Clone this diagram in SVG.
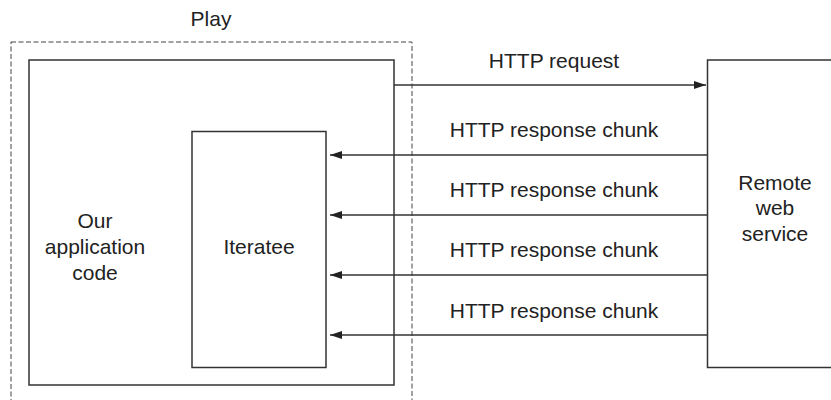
<svg xmlns="http://www.w3.org/2000/svg" width="831" height="400" viewBox="0 0 831 400">
<style>
.box{fill:#fff;stroke:#333;stroke-width:1.5}
.dash{fill:none;stroke:#444;stroke-width:1;stroke-dasharray:5 2.5}
.conn{stroke:#333;stroke-width:1.3;fill:none}
text{font-family:"Liberation Sans",Arial,sans-serif;font-size:21px;fill:#222;text-anchor:middle}
</style>
<defs>
<marker id="ah" viewBox="0 0 12 8" refX="12" refY="4" markerWidth="12" markerHeight="8" markerUnits="userSpaceOnUse" orient="auto">
<path d="M0,0 L12,4 L0,8 Z" fill="#222"/>
</marker>
</defs>
<g id="play">
<rect class="dash" x="11" y="42" width="401" height="380"/>
<text x="211" y="26">Play</text>
</g>
<g id="app">
<rect class="box" x="29" y="60" width="365" height="325"/>
<text x="95" y="228">Our</text>
<text x="95" y="254">application</text>
<text x="95" y="280">code</text>
</g>
<g id="iteratee">
<rect class="box" x="192" y="131.5" width="134" height="236"/>
<text x="259" y="254">Iteratee</text>
</g>
<g id="remote">
<rect class="box" x="707.5" y="60" width="140" height="307.5"/>
<text x="775" y="190">Remote</text>
<text x="775" y="215">web</text>
<text x="775" y="241">service</text>
</g>
<g id="connectors">
<line class="conn" x1="394" y1="85" x2="706" y2="85" marker-end="url(#ah)"/>
<line class="conn" x1="707.5" y1="155" x2="330" y2="155" marker-end="url(#ah)"/>
<line class="conn" x1="707.5" y1="215" x2="330" y2="215" marker-end="url(#ah)"/>
<line class="conn" x1="707.5" y1="275" x2="330" y2="275" marker-end="url(#ah)"/>
<line class="conn" x1="707.5" y1="335" x2="330" y2="335" marker-end="url(#ah)"/>
<text x="554" y="68">HTTP request</text>
<text x="554" y="137">HTTP response chunk</text>
<text x="554" y="197">HTTP response chunk</text>
<text x="554" y="257">HTTP response chunk</text>
<text x="554" y="318">HTTP response chunk</text>
</g>
</svg>
